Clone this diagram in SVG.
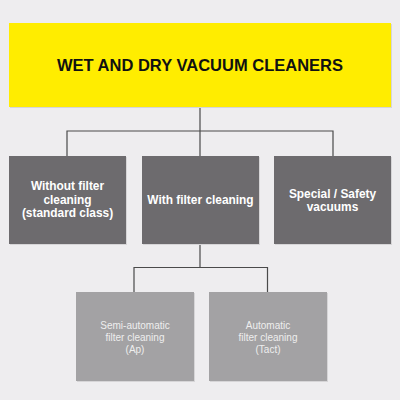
<svg xmlns="http://www.w3.org/2000/svg" width="400" height="400" viewBox="0 0 400 400">
<style>
.bg{fill:#eeedef}
.top{fill:#ffed00}
.mid{fill:#6d6b6e}
.low{fill:#a3a2a4}
.shadow{fill:#d6d5d7}
.t1{font-family:"Liberation Sans",Arial,sans-serif;font-weight:bold;font-size:16.5px;fill:#111;text-anchor:middle}
.t2{font-family:"Liberation Sans",Arial,sans-serif;font-weight:bold;font-size:11.9px;fill:#ffffff;text-anchor:middle}
.t3{font-family:"Liberation Sans",Arial,sans-serif;font-size:10px;fill:#eeeeee;text-anchor:middle}
.conn{fill:none;stroke:#4a4a4a;stroke-width:1.2}
</style>
<rect class="bg" x="0" y="0" width="400" height="400"/>
<g id="connectors">
<path class="conn" d="M200 107 V131 M67 156 V131 H333 V156 M200 131 V156"/>
<path class="conn" d="M200 244 V267.5 M134 292 V267.5 H267.5 V292"/>
</g>
<g id="root">
<rect class="shadow" x="10" y="24" width="382" height="84"/>
<rect class="top" x="9" y="23" width="382" height="84"/>
<text class="t1" x="200" y="71">WET AND DRY VACUUM CLEANERS</text>
</g>
<g id="without-filter">
<rect class="shadow" x="10" y="157" width="117" height="88"/>
<rect class="mid" x="9" y="156" width="117" height="88"/>
<text class="t2" x="67.5" y="190">Without filter</text>
<text class="t2" x="67.5" y="203.5">cleaning</text>
<text class="t2" x="67.5" y="217">(standard class)</text>
</g>
<g id="with-filter">
<rect class="shadow" x="143" y="157" width="117" height="88"/>
<rect class="mid" x="142" y="156" width="117" height="88"/>
<text class="t2" x="200.5" y="204">With filter cleaning</text>
</g>
<g id="special">
<rect class="shadow" x="275" y="157" width="117" height="88"/>
<rect class="mid" x="274" y="156" width="117" height="88"/>
<text class="t2" x="332.5" y="197.5">Special / Safety</text>
<text class="t2" x="332.5" y="211">vacuums</text>
</g>
<g id="semi-automatic">
<rect class="shadow" x="77" y="293" width="118" height="89"/>
<rect class="low" x="76" y="292" width="118" height="89"/>
<text class="t3" x="135" y="328.5">Semi-automatic</text>
<text class="t3" x="135" y="340.5">filter cleaning</text>
<text class="t3" x="135" y="352.5">(Ap)</text>
</g>
<g id="automatic">
<rect class="shadow" x="210" y="293" width="118" height="89"/>
<rect class="low" x="209" y="292" width="118" height="89"/>
<text class="t3" x="268" y="328.5">Automatic</text>
<text class="t3" x="268" y="340.5">filter cleaning</text>
<text class="t3" x="268" y="352.5">(Tact)</text>
</g>
</svg>
